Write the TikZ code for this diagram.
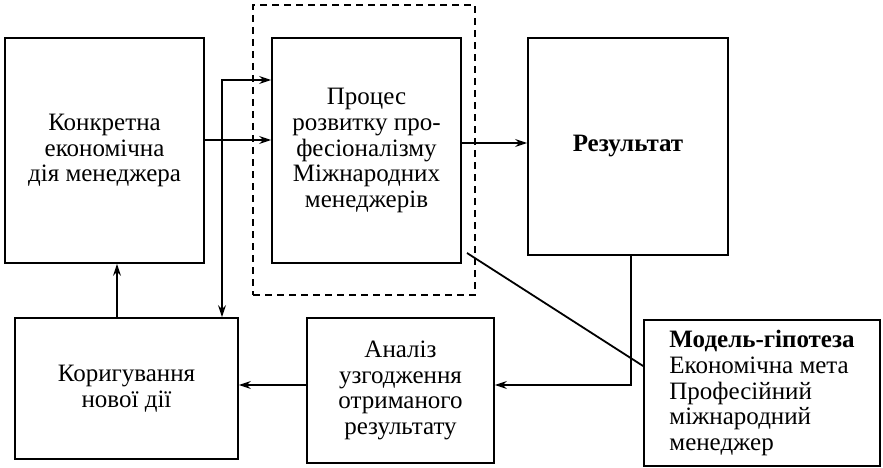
\documentclass[tikz,border=0pt]{standalone}
\usepackage{fontspec}
\setmainfont{Liberation Serif}
\usepackage{tikz}
\usetikzlibrary{positioning, arrows.meta, calc}

\begin{document}
\begin{tikzpicture}[x=1pt, y=-1pt, line width=1.8pt, >={Stealth[length=12pt, width=8pt, inset=4pt]},
    font=\fontsize{25}{25.8}\selectfont,
    box/.style={draw, rectangle, align=center, inner sep=2pt},
    hyp/.style={draw, rectangle, align=left, inner sep=2pt}]

            \useasboundingbox (0,0) rectangle (883,468);

            % --- верхній ряд ---
            \node[box, minimum width=199pt, minimum height=225pt] (dia) at (104.5, 150.5)
                {Конкретна\\економічна\\дія менеджера};
            \node[box, minimum width=189pt, minimum height=225pt] (proc) at (366.5, 150.5)
                {Процес\\розвитку про-\\фесіоналізму\\Міжнародних\\менеджерів};
            \node[box, minimum width=200pt, minimum height=217pt] (rez) at (628, 146.5)
                {\textbf{Результат}};

            % пунктирна рамка навколо процесу
            \node[draw, dash pattern=on 7pt off 5pt, minimum width=222pt, minimum height=290pt] (frame) at (364, 150) {};

            % --- нижній ряд ---
            \node[box, minimum width=223pt, minimum height=141pt] (kor) at (126.5, 388.5)
                {Коригування\\нової дії};
            \node[box, minimum width=187pt, minimum height=145pt] (anal) at (400.5, 390.5)
                {Аналіз\\узгодження\\отриманого\\результату};
            \node[hyp, minimum width=236pt, minimum height=146pt] (model) at (762, 393)
                {\textbf{Модель-гіпотеза}\\Економічна мета\\Професійний\\міжнародний\\менеджер};

            % --- зв'язки ---
            \coordinate (split) at (222, 80);
            \coordinate (turn) at (631, 385);
            \coordinate (tail) at (467, 253);

            \draw[->] (dia.east |- 0,140) -- (proc.west |- 0,140);
            \draw[<->] (kor.north -| split) -- (split) -- (proc.west |- split);
            \draw[->] (kor.north -| 117,0) -- (dia.south -| 117,0);
            \draw[->] (proc.east |- 0,143) -- (rez.west |- 0,143);
            \draw[->] (rez.south -| turn) -- (turn) -- (anal.east |- turn);
            \draw[->] (anal.west |- turn) -- (kor.east |- turn);
            \draw (tail) -- (model.west |- 0,366);
        \end{tikzpicture}
\end{document}
